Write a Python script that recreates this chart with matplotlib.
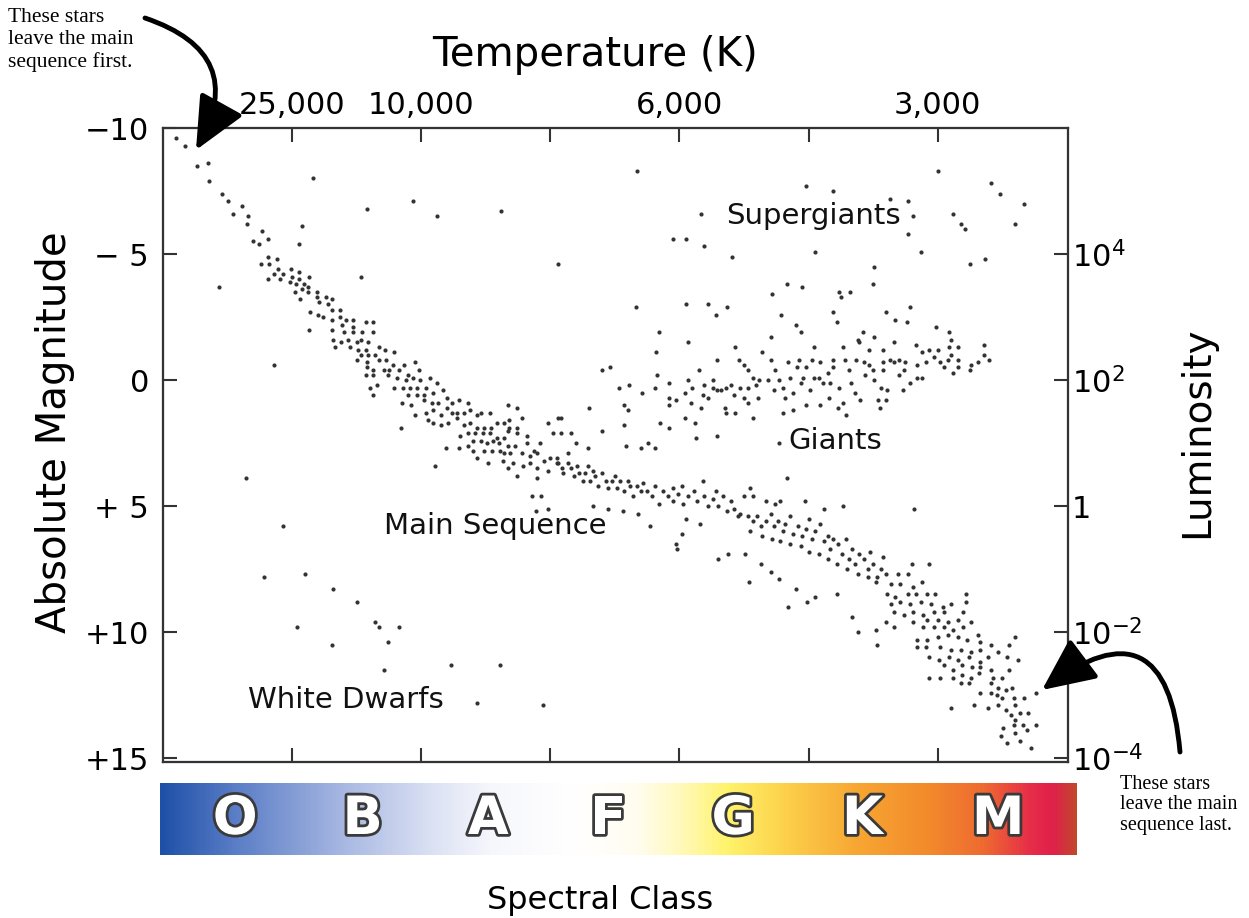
import numpy as np
import matplotlib.pyplot as plt
import matplotlib.patheffects as pe
from matplotlib.colors import LinearSegmentedColormap
from matplotlib.patches import FancyArrowPatch

# x = spectral index (10 subclasses per class: O0=0, B0=10, ... M0=60), y = absolute magnitude
temp_ticks = [10, 20, 30, 40, 50, 60]
temp_labels = ["25,000", "10,000", "", "6,000", "", "3,000"]
mag_ticks = [-10, -5, 0, 5, 10, 15]
mag_labels = ["\u221210", "\u2212 5", "0", "+ 5", "+10", "+15"]
lum_ticks = [-5, 0, 5, 10, 15]
lum_labels = [r"$10^4$", r"$10^2$", "1", r"$10^{-2}$", r"$10^{-4}$"]
spectral_classes = ["O", "B", "A", "F", "G", "K", "M"]
class_centers = [0.082, 0.221, 0.358, 0.489, 0.625, 0.766, 0.914]
spectrum_stops = [
    (0.0, "#1e50a8"), (0.08, "#5a7dc6"), (0.2, "#a8b8e2"), (0.3, "#dde3f4"),
    (0.36, "#f6f7fc"), (0.45, "#ffffff"), (0.52, "#fffdf0"), (0.57, "#fff9b8"),
    (0.62, "#fff36a"), (0.68, "#fdd24c"), (0.76, "#f7a733"), (0.84, "#f28a2c"),
    (0.90, "#ee6a30"), (0.95, "#e62e48"), (0.975, "#e0204a"), (1.0, "#c4452e"),
]

main_seq_upper = [
    (1.0, -9.6), (1.7, -9.3), (2.6, -8.5), (3.5, -8.6), (3.6, -7.9), (4.6, -7.4), (5.0, -7.1),
    (6.1, -6.9), (5.4, -6.6), (6.6, -6.5), (6.5, -6.2), (7.7, -5.9), (7.0, -5.5), (7.4, -5.4),
    (8.1, -5.6), (8.1, -4.9), (8.8, -4.8), (7.6, -4.6), (8.2, -4.6), (8.9, -4.4), (8.6, -4.2),
    (9.3, -4.2), (9.9, -4.4), (10.5, -4.3), (10.0, -4.1), (8.1, -4.0), (9.1, -4.0), (9.8, -3.9),
    (10.5, -4.0), (11.3, -4.1), (10.3, -3.8), (10.9, -3.8), (10.2, -3.5), (10.8, -3.6), (11.2, -3.7),
    (11.9, -3.5), (11.2, -3.5), (11.9, -3.3), (12.6, -3.3), (13.1, -3.2), (10.6, -3.2), (12.1, -3.1),
    (12.8, -3.0), (11.4, -2.7), (13.1, -2.8), (12.0, -2.6), (12.4, -2.5), (13.7, -2.8), (13.7, -2.5),
    (14.2, -2.4), (14.7, -2.4), (13.1, -2.4), (15.7, -2.3), (16.3, -2.3), (13.9, -2.2), (14.7, -2.1),
    (11.3, -2.0), (13.1, -2.0), (14.0, -1.9), (14.7, -1.9), (15.4, -1.9), (16.3, -1.9), (13.2, -1.6),
    (13.8, -1.5), (14.3, -1.6), (15.0, -1.5), (15.3, -1.6), (15.9, -1.5), (13.3, -1.3), (14.5, -1.3),
    (15.1, -1.2), (15.7, -1.2), (16.7, -1.3), (17.2, -1.2), (17.9, -1.1), (15.3, -1.0), (15.9, -1.0),
    (16.4, -1.0), (15.0, -0.8), (15.8, -0.7), (16.7, -0.8), (17.3, -0.8), (17.8, -0.6), (18.7, -0.6),
    (19.5, -0.7), (15.8, -0.5), (16.3, -0.4), (17.1, -0.4), (17.5, -0.4), (18.3, -0.4), (19.0, -0.2),
    (19.8, -0.4), (15.7, -0.2), (16.3, -0.2), (17.4, -0.2), (18.1, -0.1), (18.8, 0.0), (19.4, -0.1),
    (19.9, 0.0), (20.7, -0.1), (21.2, 0.1), (16.6, 0.2), (16.0, 0.3), (17.9, 0.3), (18.6, 0.3),
    (19.1, 0.3), (19.7, 0.3), (20.4, 0.3), (16.3, 0.6), (18.5, 0.9), (19.0, 0.6), (19.7, 0.6),
    (20.2, 0.6), (20.9, 0.5), (21.7, 0.4), (22.0, 0.7), (19.2, 1.0), (20.2, 0.8), (20.8, 0.9),
    (21.3, 0.9), (22.0, 1.1), (22.4, 0.9), (22.9, 0.8), (23.6, 0.9), (19.5, 1.4), (20.4, 1.3),
    (20.9, 1.2), (21.5, 1.4), (22.1, 1.7), (22.4, 1.3), (22.8, 1.3), (23.3, 1.3), (23.8, 1.2),
    (24.3, 1.4), (24.6, 1.3), (25.3, 1.3), (20.5, 1.6), (20.9, 1.7), (21.5, 1.8), (22.8, 1.5),
    (23.3, 1.8), (23.8, 1.7), (24.3, 1.9), (24.9, 1.9), (25.4, 1.9), (25.9, 1.7), (26.4, 1.7),
    (26.8, 1.9), (27.4, 1.9), (27.8, 1.5), (26.8, 1.6),
]

main_seq_mid = [
    (23.0, 2.2), (23.6, 2.1), (24.2, 2.1), (24.8, 2.1), (25.3, 2.1), (25.9, 2.3), (26.4, 2.3),
    (26.7, 2.0), (27.4, 2.1), (28.2, 2.2), (24.0, 2.4), (24.6, 2.4), (25.1, 2.5), (25.6, 2.4),
    (26.0, 2.5), (26.7, 2.6), (27.3, 2.6), (28.2, 2.5), (28.7, 2.8), (29.2, 2.5), (30.2, 2.1),
    (29.8, 1.7), (21.9, 2.7), (22.9, 2.7), (23.6, 2.6), (24.0, 2.8), (24.9, 2.8), (25.5, 2.8),
    (26.1, 2.8), (26.4, 2.9), (26.9, 2.9), (27.8, 2.9), (28.4, 3.0), (29.0, 2.9), (29.5, 3.2),
    (30.0, 3.1), (30.5, 3.3), (24.3, 3.1), (25.2, 3.3), (26.3, 3.2), (27.1, 3.3), (27.9, 3.4),
    (28.4, 3.3), (29.0, 3.5), (29.8, 3.6), (26.7, 3.5), (27.4, 3.8), (29.0, 3.9), (30.6, 1.5),
    (27.4, 1.1), (26.7, 1.0),
    (30.5, 3.1), (30.6, 3.3), (30.9, 3.5), (31.0, 3.7), (31.4, 2.9), (31.4, 3.3), (31.6, 3.5),
    (31.8, 3.8), (32.1, 3.4), (32.2, 3.7), (32.5, 4.0), (32.7, 3.7), (32.9, 3.4), (33.1, 4.0),
    (33.3, 3.6), (33.5, 3.8), (33.7, 4.2), (34.0, 3.7), (34.3, 4.0), (34.5, 4.3), (34.8, 4.0),
    (35.0, 3.8), (35.2, 4.3), (35.4, 4.0), (35.7, 4.4), (36.0, 4.0), (36.2, 4.2), (36.4, 4.6),
    (36.7, 4.2), (37.0, 4.4), (37.2, 4.1), (37.5, 4.4), (37.9, 4.6), (38.1, 4.2), (38.4, 4.9),
    (38.7, 4.4), (39.1, 4.6), (39.5, 4.3), (39.5, 4.8), (39.9, 4.5), (40.2, 4.2), (40.3, 4.9),
    (40.7, 4.6), (41.1, 4.4), (41.4, 4.8), (41.8, 4.0), (41.9, 4.6), (42.2, 5.0), (42.6, 4.7),
    (42.8, 4.4), (43.0, 5.0), (43.4, 4.6), (43.7, 5.2), (44.0, 4.8), (44.2, 5.1), (44.5, 5.4),
    (40.5, 5.5), (41.6, 5.7), (40.2, 6.1), (39.7, 6.5), (39.8, 6.7), (43.0, 7.1), (43.8, 6.9),
    (37.7, 5.8), (36.8, 5.3), (29.3, 4.6), (28.6, 4.6), (29.8, 5.1), (28.9, 5.2), (33.3, 5.0),
    (34.5, 5.1), (35.6, 5.2),
    (30.8, 2.1), (30.8, 1.5), (31.6, 2.1), (32.0, 2.5), (33.0, 1.1), (32.9, 2.7), (34.0, 2.0),
    (35.7, 1.0), (36.0, 1.2), (35.7, 1.8), (35.9, 2.6), (37.6, 2.5), (38.1, 2.7), (37.0, 2.7),
    (39.2, 1.0), (38.5, 1.7), (39.2, 1.9), (41.2, 1.7), (40.4, 1.5), (40.9, 0.9), (41.7, 1.1),
    (41.3, 2.3), (42.9, 2.2), (43.5, 1.1), (43.6, 1.3), (44.3, 1.3), (45.3, 0.9), (45.7, 1.5),
    (47.7, 2.5),
]

main_seq_lower = [
    (48.3, 3.9), (45.5, 4.3), (45.0, 4.6), (45.7, 4.6), (46.7, 4.8), (47.4, 4.9), (47.8, 4.8),
    (49.7, 4.8), (51.2, 5.1), (52.7, 5.0), (58.2, 5.1),
    (44.7, 5.3), (45.3, 5.4), (45.7, 5.6), (46.0, 5.4), (46.3, 5.8), (46.7, 5.6), (47.1, 5.3),
    (47.3, 5.8), (47.6, 5.6), (48.0, 6.0), (48.2, 5.7), (48.6, 5.4), (48.8, 6.1), (49.2, 5.8),
    (49.5, 6.2), (49.8, 5.9), (50.0, 5.5), (50.3, 6.3), (50.5, 6.0), (50.9, 5.7), (51.2, 6.4),
    (51.5, 6.2), (51.7, 6.7), (51.9, 6.3), (52.3, 6.5), (52.6, 6.9), (52.9, 6.3), (53.1, 7.1),
    (53.4, 6.7), (53.6, 7.3), (53.9, 6.9), (54.3, 7.1), (54.6, 7.5), (54.8, 6.8), (55.0, 7.3),
    (55.3, 7.8), (55.6, 7.5), (55.8, 7.0),
    (45.5, 6.0), (46.4, 6.2), (47.2, 6.3), (47.8, 6.4), (48.6, 6.5), (49.4, 6.6), (50.0, 6.8),
    (50.8, 6.9), (51.5, 7.1), (52.2, 7.3), (53.0, 7.5), (53.8, 7.7), (54.6, 7.8), (55.2, 8.0),
    (45.1, 6.9), (45.4, 8.0), (46.3, 7.3), (47.1, 7.6), (47.7, 7.9), (48.4, 9.0), (49.0, 8.3),
    (49.9, 8.8), (50.5, 8.6), (52.2, 8.5), (53.4, 9.4), (53.8, 10.0), (55.2, 9.9), (55.3, 10.5),
    (58.0, 7.3), (59.3, 7.3), (56.0, 7.7), (56.9, 7.7), (57.7, 7.7), (56.4, 8.1), (57.1, 8.1),
    (58.1, 8.2), (58.8, 8.0), (56.1, 8.5), (56.7, 8.6), (57.7, 8.5), (58.3, 8.5), (59.2, 8.5),
    (59.8, 8.5), (62.2, 8.5), (62.2, 8.8), (56.4, 8.9), (57.1, 8.8), (57.9, 8.9), (58.7, 8.8),
    (59.5, 8.9), (60.4, 9.0), (61.0, 8.9), (56.6, 9.2), (57.4, 9.3), (58.1, 9.2), (58.9, 9.3),
    (59.7, 9.2), (60.5, 9.2), (62.0, 9.2), (56.0, 9.6), (56.6, 9.8), (58.1, 9.6), (59.2, 9.5),
    (60.0, 9.5), (60.8, 9.6), (61.6, 9.5), (62.6, 9.6), (58.9, 9.8), (59.7, 9.8), (60.5, 9.8),
    (61.2, 9.9), (62.0, 9.8), (63.1, 10.1), (58.4, 10.3), (59.2, 10.3), (60.0, 10.2), (60.8, 10.1),
    (61.6, 10.2), (62.3, 10.3), (63.3, 10.4), (64.1, 10.5), (66.0, 10.2), (58.4, 10.6), (59.1, 10.6),
    (60.2, 10.6), (61.0, 10.7), (61.8, 10.7), (62.6, 10.8), (63.3, 10.7), (64.7, 10.8), (65.5, 10.5),
    (59.3, 11.0), (60.1, 11.1), (60.9, 11.0), (61.6, 11.1), (62.4, 11.0), (63.3, 11.2), (63.9, 11.0),
    (65.4, 11.0), (66.2, 11.1), (60.5, 11.3), (61.2, 11.5), (61.9, 11.3), (62.7, 11.4), (63.3, 11.4),
    (64.1, 11.5), (59.3, 11.8), (60.2, 11.8), (61.2, 11.8), (61.9, 11.7), (62.6, 11.8), (63.2, 11.6),
    (64.3, 11.8), (65.0, 11.8), (65.5, 11.5), (61.8, 12.0), (62.4, 12.0), (64.1, 12.0), (64.7, 12.2),
    (65.3, 12.3), (65.8, 12.2), (63.3, 12.4), (64.1, 12.4), (64.6, 12.5), (65.0, 12.6), (65.9, 12.6),
    (66.7, 12.6), (67.6, 12.4), (61.0, 13.0), (62.8, 12.9), (63.9, 13.0), (64.7, 12.9), (65.3, 13.1),
    (66.0, 12.9), (65.7, 13.3), (66.4, 13.2), (67.0, 13.2), (66.0, 13.5), (66.6, 13.7), (67.6, 13.7),
    (65.1, 13.8), (65.9, 13.7), (66.0, 14.0), (66.9, 13.9), (64.9, 14.1), (65.4, 14.4), (66.4, 14.3),
    (67.2, 14.6),
]

giants = [
    (34.6, -0.5), (34.0, -0.4), (35.3, 0.3), (36.1, 0.2), (37.1, 0.5), (38.1, 0.3), (38.3, -0.2),
    (39.2, 0.1), (39.2, 0.7), (39.7, 0.8), (40.7, 0.0), (41.0, 0.3), (40.4, 0.5), (41.5, -0.4),
    (41.8, 0.6), (41.9, 0.2), (42.6, 0.0), (42.9, -0.8), (42.9, 0.4), (42.2, 0.7), (42.6, 0.3),
    (43.2, 0.4), (43.6, 0.3), (44.0, 0.2), (44.2, 0.6), (44.6, -0.8), (45.0, -0.6), (44.7, 0.3),
    (45.0, 0.7), (45.3, 0.3), (45.3, -0.4), (45.7, -0.1), (45.9, 0.2), (46.2, 0.0), (46.4, -1.1),
    (46.1, 0.7), (46.9, 0.0), (47.1, -0.8), (47.4, -0.4), (47.3, 0.4), (47.7, 0.0), (48.0, 1.3),
    (48.0, 0.3), (48.4, -0.7), (48.2, 0.7), (48.6, -0.1), (48.8, 0.5), (48.8, 1.2), (49.3, -0.8),
    (49.1, -0.5), (49.4, 0.1), (49.6, -0.1), (49.8, -0.5), (49.8, 1.0), (50.1, 0.4), (50.3, -0.8),
    (50.4, -0.1), (50.8, -0.1), (50.9, 1.0), (50.9, -0.7), (51.1, 0.1), (51.5, -0.3), (51.6, 0.7),
    (51.7, 0.1), (51.9, -0.8), (51.9, -0.5), (52.3, 1.1), (52.4, 0.3), (52.7, 0.9), (52.8, -0.8),
    (52.9, 1.4), (53.1, -0.4), (53.3, 0.1), (53.6, 0.5), (53.7, -0.8), (53.8, -1.6), (54.0, 0.8),
    (54.3, -0.7), (54.4, -0.2), (54.7, -1.2), (54.7, -0.6), (55.0, -0.4), (55.1, 0.0), (55.5, 1.1),
    (55.4, 0.8), (55.6, 0.3), (55.8, -1.2), (55.8, -0.7), (55.8, -0.4), (56.0, 0.8), (56.1, 0.4),
    (56.3, -0.8), (56.6, -1.5), (56.6, -0.7), (57.0, -0.2), (57.0, -0.8), (57.3, 0.4), (57.4, -0.4),
    (57.5, -0.7), (57.9, 0.1), (58.4, -0.1), (58.3, -1.4), (58.4, -0.6), (58.8, -0.1), (58.8, -1.1),
    (59.1, -0.7), (59.3, -1.2), (59.7, -0.9), (60.0, -1.2), (60.2, -0.7), (60.5, -0.5), (60.8, -0.8),
    (60.9, -1.3), (61.0, -1.6), (61.2, -0.3), (61.0, -1.0), (61.6, -1.3), (61.6, -0.5), (61.6, -0.8),
    (62.5, -0.4), (62.6, -0.6), (63.1, -0.7), (63.6, -1.0), (64.0, -0.8),
]

supergiants = [
    (36.7, -8.3), (49.8, -7.7), (51.9, -7.5), (60.0, -8.3), (64.1, -7.8), (64.8, -7.4), (66.7, -7.0),
    (56.3, -7.2), (57.7, -7.1), (58.1, -6.5), (61.2, -6.6), (61.8, -6.2), (62.1, -6.0), (66.0, -6.2),
    (41.7, -6.6), (57.7, -5.8), (39.5, -5.6), (40.5, -5.6), (41.9, -5.3), (44.1, -4.9), (50.5, -5.1),
    (58.7, -5.1), (62.5, -4.6), (63.7, -4.8), (55.1, -4.5), (48.3, -3.8), (49.5, -3.7), (55.0, -3.8),
    (52.4, -3.5), (53.2, -3.5), (52.5, -3.3), (47.2, -3.4), (36.6, -2.9), (40.5, -3.0), (42.2, -3.0),
    (43.7, -2.9), (42.8, -2.6), (47.9, -2.6), (51.9, -2.7), (57.9, -2.9), (56.0, -2.7), (56.7, -2.4),
    (57.6, -2.3), (52.2, -2.3), (49.0, -2.2), (59.9, -2.1), (38.4, -1.9), (49.4, -1.9), (60.9, -1.9),
    (40.7, -1.5), (47.1, -1.7), (38.2, -1.1), (44.3, -1.3), (50.4, -1.3), (54.2, -1.9), (55.1, -1.7),
    (53.9, -1.5), (52.7, -1.3), (63.6, -1.4),
    (11.6, -8.0), (15.8, -6.8), (19.4, -7.1), (21.2, -6.5), (26.2, -6.7), (30.6, -4.6), (10.8, -6.1),
    (10.5, -5.4), (4.3, -3.7), (15.3, -4.1), (8.6, -0.6),
]

white_dwarfs = [
    (6.4, 3.9), (9.3, 5.8), (7.8, 7.8), (11.0, 7.7), (13.2, 8.3), (15.0, 8.8), (10.4, 9.8),
    (13.1, 10.5), (16.4, 9.6), (16.7, 9.8), (18.3, 9.8), (17.4, 10.4), (17.1, 11.5), (22.3, 11.3),
    (26.1, 11.3), (24.3, 12.8), (29.4, 12.9), (21.1, 3.4), (18.4, 1.9),
]

fig = plt.figure(figsize=(12.49, 9.18), dpi=100)
ax = fig.add_axes([163 / 1249, 156 / 918, 905 / 1249, 634 / 918])

dot_color = "#333333"
for group in [main_seq_upper, main_seq_mid, main_seq_lower, giants, supergiants, white_dwarfs]:
    pts = np.array(group)
    ax.scatter(pts[:, 0], pts[:, 1], s=9, c=dot_color, linewidths=0)

ax.set_xlim(0, 70.1)
ax.set_ylim(15.15, -10)
ax.set_xticks(temp_ticks)
ax.set_xticklabels([])
ax.set_yticks(mag_ticks)
ax.set_yticklabels(mag_labels)
ax.tick_params(direction="in", length=10, width=1.5, labelsize=22, pad=10, color="#333333")

ax_top = ax.twiny()
ax_top.set_xlim(ax.get_xlim())
ax_top.set_xticks(temp_ticks)
ax_top.set_xticklabels(temp_labels)
ax_top.tick_params(direction="in", length=10, width=1.5, labelsize=22, pad=6, color="#333333")

ax_right = ax.twinx()
ax_right.set_ylim(ax.get_ylim())
ax_right.set_yticks(lum_ticks)
ax_right.set_yticklabels(lum_labels)
ax_right.tick_params(direction="in", length=10, width=1.5, labelsize=22, pad=3, color="#333333")

for a in (ax, ax_top, ax_right):
    for sp in a.spines.values():
        sp.set_linewidth(1.5)
        sp.set_color("#333333")

region_style = dict(fontsize=21, color="#111111")
ax.text(50.4, -6.5, "Supergiants", ha="center", va="center", **region_style)
ax.text(52.1, 2.4, "Giants", ha="center", va="center", **region_style)
ax.text(17.1, 5.8, "Main Sequence", ha="left", va="center", **region_style)
ax.text(6.6, 12.7, "White Dwarfs", ha="left", va="center", **region_style)

fig.text(595 / 1249, 1 - 55 / 918, "Temperature (K)", ha="center", va="center", fontsize=29)
fig.text(55 / 1249, 1 - 432 / 918, "Absolute Magnitude", ha="center", va="center",
         rotation=90, fontsize=29)
fig.text(1197 / 1249, 1 - 432 / 918, "Luminosity", ha="center", va="center",
         rotation=90, fontsize=28)
fig.text(600 / 1249, 1 - 900 / 918, "Spectral Class", ha="center", va="center", fontsize=23)

# spectral class colour strip
cax = fig.add_axes([160 / 1249, 63 / 918, 917 / 1249, 72 / 918])
cmap = LinearSegmentedColormap.from_list("spectrum", spectrum_stops)
cax.imshow(np.linspace(0, 1, 512).reshape(1, -1), aspect="auto", cmap=cmap,
           extent=[0, 1, 0, 1])
cax.set_xlim(0, 1)
cax.set_ylim(0, 1)
cax.axis("off")
for letter, cx in zip(spectral_classes, class_centers):
    cax.text(cx, 0.5, letter, ha="center", va="center", fontsize=38, fontweight="bold",
             color="white",
             path_effects=[pe.Stroke(linewidth=4, foreground="#3a3a3a"), pe.Normal()])

# annotations
note_style = dict(family="Liberation Serif", color="black")
fig.text(8 / 1249, 1 - 8 / 918, "These stars\nleave the main\nsequence first.",
         ha="left", va="top", fontsize=15.5, linespacing=1.2, **note_style)
fig.text(1120 / 1249, 1 - 775 / 918, "These stars\nleave the main\nsequence last.",
         ha="left", va="top", fontsize=14.5, linespacing=1.1, **note_style)

arrow_style = "-|>,head_length=1.3,head_width=0.6"
fig.add_artist(FancyArrowPatch((145 / 1249, 1 - 18 / 918), (196 / 1249, 1 - 150 / 918),
                               transform=fig.transFigure, connectionstyle="arc3,rad=-0.6",
                               arrowstyle=arrow_style, mutation_scale=25, lw=3.5,
                               color="black", shrinkA=0, shrinkB=0))
fig.add_artist(FancyArrowPatch((1180 / 1249, 1 - 752 / 918), (1042 / 1249, 1 - 690 / 918),
                               transform=fig.transFigure, connectionstyle="arc3,rad=0.9",
                               arrowstyle=arrow_style, mutation_scale=25, lw=3.5,
                               color="black", shrinkA=0, shrinkB=0))

fig.savefig("out.png", dpi=100)
